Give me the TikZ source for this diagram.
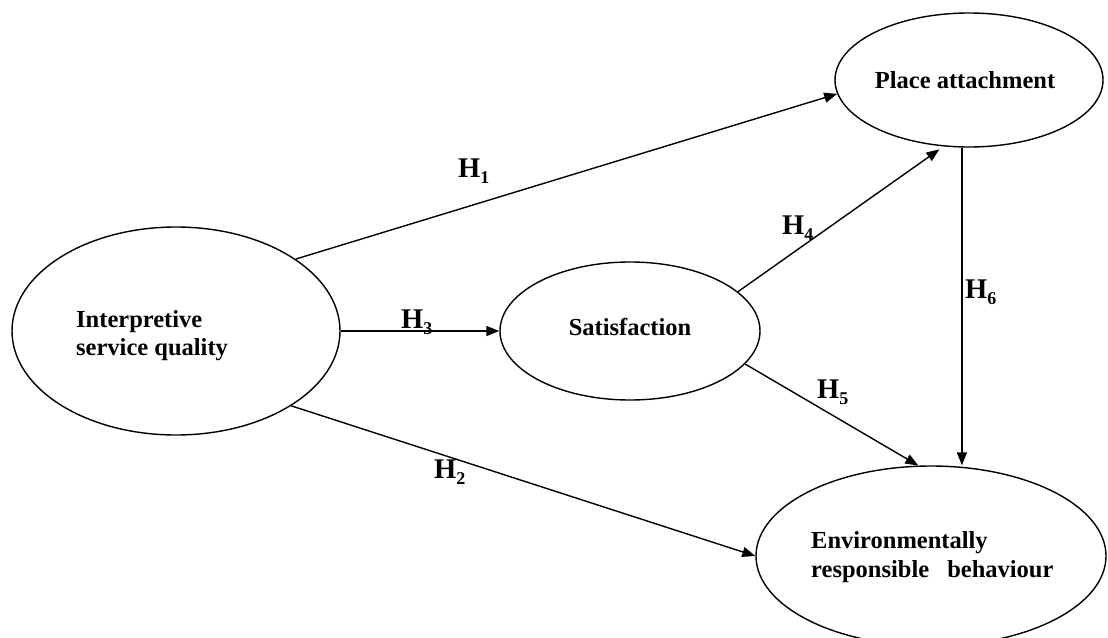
\documentclass[tikz,border=0pt]{standalone}
\usepackage{fontspec}
\setmainfont{Liberation Serif}
\usetikzlibrary{arrows.meta,shapes.geometric}
\newcommand\hypsub[1]{\raisebox{-6pt}{\fontsize{18}{18}\selectfont #1}}
\begin{document}
\begin{tikzpicture}[x=1pt,y=-1pt,
  latent/.style={draw, ellipse, line width=1.4pt, inner sep=0pt},
  nodetext/.style={font=\fontsize{24.5}{28}\selectfont\bfseries, inner sep=0pt},
  hyp/.style={font=\fontsize{28.5}{32}\selectfont\bfseries, inner sep=0pt, anchor=base west},
  arr/.style={line width=1.4pt, -{Triangle[length=13pt,width=10pt]}}
]
\useasboundingbox (0,0) rectangle (1108,637);
\clip (0,0) rectangle (1108,637);

\node[latent, minimum width=328pt, minimum height=208pt] (isq) at (176,331) {};
\node[latent, minimum width=260pt, minimum height=138pt] (sat) at (630,331) {};
\node[latent, minimum width=268pt, minimum height=134pt] (pa) at (969,80) {};
\node[latent, minimum width=350pt, minimum height=180pt] (erb) at (931,556) {};

\node[nodetext, anchor=base west] (isq1) at (76,327) {Interpretive};
\node[nodetext, anchor=base west] (isq2) at (76,355) {service quality};
\node[nodetext, anchor=base] (satt) at (630,335) {Satisfaction};
\node[nodetext, anchor=base] (pat) at (965,88) {Place attachment};
\node[nodetext, anchor=base west] (erb1) at (811,548) {Environmentally};
\node[nodetext, anchor=base west] (erb2) at (811,577) {responsible\hspace{12pt} behaviour};

\draw[arr] (isq.31.2) -- (pa.186.4);
\draw[arr] (isq) -- (sat);
\draw[arr] (isq.327.8) -- (erb.180);
\draw[arr, shorten >=5pt] (sat.20) -- (pa.249);
\draw[arr] (sat.344) -- (erb.98);
\draw[arr] (pa.264) -- (pa.264 |- erb.north);

\node[hyp] (h1) at (458,177) {H\hypsub{1}};
\node[hyp] (h2) at (434,478) {H\hypsub{2}};
\node[hyp] (h3) at (401,328) {H\hypsub{3}};
\node[hyp] (h4) at (782,234) {H\hypsub{4}};
\node[hyp] (h5) at (817,398) {H\hypsub{5}};
\node[hyp] (h6) at (965,298) {H\hypsub{6}};
\end{tikzpicture}
\end{document}
